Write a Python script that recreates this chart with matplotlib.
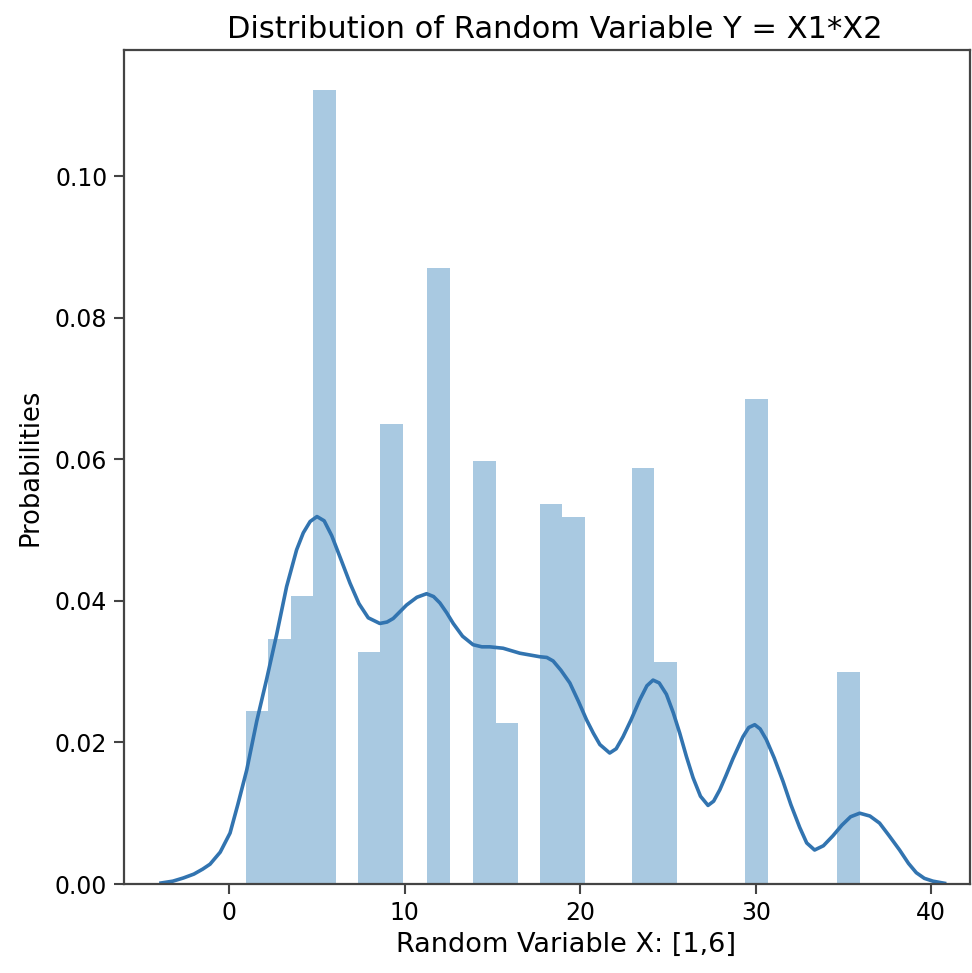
import matplotlib
matplotlib.use("Agg")
import matplotlib.pyplot as plt

# histogram bars (left edge on x, density height)
bar_left = [0.95, 2.23, 3.51, 4.79, 7.33, 8.61, 11.29, 13.90, 15.18,
            17.70, 18.98, 22.95, 24.23, 29.41, 34.64]
bar_height = [0.0245, 0.0346, 0.0407, 0.1122, 0.0327, 0.0650, 0.0870, 0.0598,
              0.0227, 0.0537, 0.0519, 0.0588, 0.0313, 0.0685, 0.0299]
bin_width = 1.28

# kde curve
kde_x = [-3.87, -3.2, -2.6, -2.0, -1.5, -1.08, -0.5, 0.06, 0.5, 1.01, 1.58,
         2.15, 2.71, 3.28, 3.85, 4.23, 4.62, 5.01, 5.42, 5.85, 6.35, 6.89, 7.4,
         7.93, 8.59, 9.0, 9.35, 10.11, 10.70, 11.25, 11.65, 12.01, 12.4, 12.77,
         13.3, 13.90, 14.4, 14.85, 15.61, 16.56, 17.70, 18.1, 18.46, 18.9,
         19.41, 19.9, 20.36, 20.75, 21.12, 21.68, 22.05, 22.44, 22.9, 23.39,
         23.8, 24.15, 24.5, 24.91, 25.3, 25.67, 26.05, 26.43, 26.85, 27.28,
         27.6, 27.95, 28.3, 28.70, 29.27, 29.6, 29.94, 30.25, 30.60, 31.05,
         31.55, 32.0, 32.50, 32.9, 33.35, 33.85, 34.39, 34.9, 35.4, 35.92, 36.5,
         37.05, 37.6, 38.19, 38.7, 39.14, 39.6, 40.09, 40.75]
kde_y = [0.00014, 0.0004, 0.00085, 0.0014, 0.0021, 0.0028, 0.0045, 0.0072,
         0.0112, 0.0161, 0.0230, 0.0290, 0.0352, 0.0420, 0.0472, 0.0496, 0.0512,
         0.0519, 0.0513, 0.0492, 0.0460, 0.0425, 0.0396, 0.0376, 0.0368, 0.0370,
         0.0375, 0.0394, 0.0405, 0.0410, 0.0406, 0.0397, 0.0383, 0.0368, 0.0350,
         0.0338, 0.0335, 0.0335, 0.0333, 0.0326, 0.0321, 0.0320, 0.0315, 0.0302,
         0.0284, 0.0258, 0.0232, 0.0213, 0.0197, 0.0185, 0.0191, 0.0208, 0.0232,
         0.0260, 0.0280, 0.0288, 0.0284, 0.0268, 0.0242, 0.0213, 0.0180, 0.0150,
         0.0124, 0.0111, 0.0117, 0.0133, 0.0153, 0.0177, 0.0208, 0.0221, 0.0225,
         0.0219, 0.0204, 0.0178, 0.0145, 0.0112, 0.0080, 0.0058, 0.0048, 0.0054,
         0.0068, 0.0083, 0.0095, 0.0100, 0.0096, 0.0086, 0.0068, 0.0048, 0.0029,
         0.0016, 0.0008, 0.0004, 0.0001]

yticks = [0.00, 0.02, 0.04, 0.06, 0.08, 0.10]
xticks = [0, 10, 20, 30, 40]

fig = plt.figure(figsize=(9.72, 9.73), dpi=100)
ax = fig.add_axes([124 / 972, 1 - 884 / 973, (970 - 124) / 972, (884 - 50) / 973])

ax.bar(bar_left, bar_height, width=bin_width, align='edge', color='#2878b5',
       alpha=0.4, linewidth=0)
ax.plot(kde_x, kde_y, color='#3274b0', linewidth=2.6, solid_joinstyle='round')

ax.set_xlim(-5.98, 42.2)
ax.set_ylim(0, 0.1178)
ax.set_xticks(xticks)
ax.set_yticks(yticks)
ax.set_yticklabels([f"{t:.2f}" for t in yticks])

for s in ax.spines.values():
    s.set_linewidth(1.6)
    s.set_color('#444444')
ax.tick_params(labelsize=17, length=7, width=1.5, color='#444444', pad=5)

ax.set_title("Distribution of Random Variable Y = X1*X2", fontsize=22, pad=9,
             x=0.509)
ax.set_xlabel("Random Variable X: [1,6]", fontsize=19.5, labelpad=5)
ax.xaxis.label.set_x(0.522)
ax.set_ylabel("Probabilities", fontsize=18.5, labelpad=8)

fig.savefig("out.png", dpi=100)
